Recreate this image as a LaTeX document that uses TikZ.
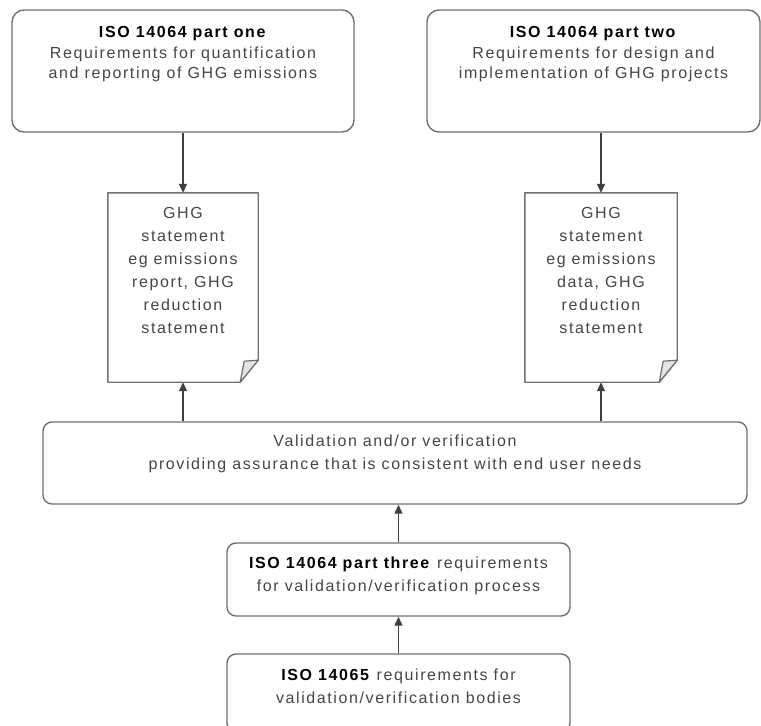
\documentclass[tikz,border=0pt]{standalone}
\usepackage{xcolor}
\usepackage{fontspec}
\setmainfont{Liberation Sans}[LetterSpace=10]
\usepackage{tikz}
\usetikzlibrary{arrows.meta, positioning, calc}

\definecolor{boxgray}{HTML}{707070}
\definecolor{txtgray}{HTML}{454545}

\tikzset{
    stdbox/.style={draw=boxgray, line width=1.4pt, rounded corners=#1, inner sep=0pt},
    stdbox/.default=9pt,
    txt/.style={inner sep=0pt, align=center, text=txtgray, font=\fontsize{16}{23}\selectfont},
    txttop/.style={txt, font=\fontsize{16}{20.5}\selectfont},
    flow/.style={draw=black!75, line width=1.3pt, -{Triangle[length=9pt, width=8pt]}}
}

% folded page outline round a node
\newcommand{\docsheet}[1]{%
    \draw[draw=boxgray, line width=1.4pt, line join=round]
        (#1.north west) -- (#1.north east) -- ([yshift=22pt]#1.south east)
        -- ([xshift=-18pt]#1.south east) -- (#1.south west) -- cycle;
    \draw[draw=boxgray, line width=1.2pt, fill=gray!20, line join=round]
        ([yshift=22pt]#1.south east) -- ([xshift=-14pt, yshift=21pt]#1.south east)
        -- ([xshift=-18pt]#1.south east) -- cycle;
}

\newcommand{\bld}[1]{\textcolor{black}{\textbf{#1}}}

\begin{document}
\begin{tikzpicture}[x=1pt, y=-1pt]
    \useasboundingbox (0,0) rectangle (761,726);

    % Parts one and two
    \node[stdbox=12pt, minimum width=342pt, minimum height=122pt,
          label={[txttop, anchor=north, yshift=-17pt]north:{\bld{ISO 14064 part one}\\Requirements for quantification\\and reporting of GHG emissions}}]
          (part1) at (183,71) {};
    \node[stdbox=12pt, minimum width=333pt, minimum height=122pt,
          label={[txttop, anchor=north, yshift=-17pt]north:{\bld{ISO 14064 part two}\\Requirements for design and\\implementation of GHG projects}}]
          (part2) at (593.5,71) {};

    % GHG statements
    \node[inner sep=0pt, minimum width=150pt, minimum height=189pt,
          label={[txt, anchor=north, yshift=-14pt]north:{GHG\\statement\\eg emissions\\report, GHG\\reduction\\statement}}]
          (doc1) at (183,287.5) {};
    \node[inner sep=0pt, minimum width=152pt, minimum height=189pt,
          label={[txt, anchor=north, yshift=-14pt]north:{GHG\\statement\\eg emissions\\data, GHG\\reduction\\statement}}]
          (doc2) at (601,287.5) {};
    \docsheet{doc1}
    \docsheet{doc2}

    % Validation / verification
    \node[stdbox, minimum width=704pt, minimum height=82pt,
          label={[txt, anchor=north, yshift=-13pt]north:{Validation and/or verification\\providing assurance that is consistent with end user needs}}]
          (valid) at (395,463) {};

    % Part three and ISO 14065
    \node[stdbox, minimum width=343pt, minimum height=73pt,
          label={[txt, anchor=north, yshift=-14pt]north:{\bld{ISO 14064 part three} requirements\\for validation/verification process}}]
          (part3) at (398.5,579.5) {};
    \node[stdbox, minimum width=343pt, minimum height=78pt,
          label={[txt, anchor=north, yshift=-15pt]north:{\bld{ISO 14065} requirements for\\validation/verification bodies}}]
          (iso65) at (398.5,693) {};

    % Connectors
    \draw[flow] (part1.south) -- (doc1.north);
    \draw[flow] (doc2.north |- part2.south) -- (doc2.north);
    \draw[flow] (doc1.south |- valid.north) -- (doc1.south);
    \draw[flow] (doc2.south |- valid.north) -- (doc2.south);
    \draw[flow] (part3.north) -- (part3.north |- valid.south);
    \draw[flow] (iso65.north) -- (part3.south);
\end{tikzpicture}
\end{document}
